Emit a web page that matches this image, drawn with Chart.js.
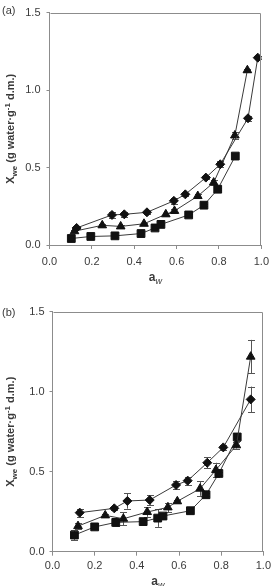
<!DOCTYPE html>
<html>
<head>
<meta charset="utf-8">
<script src="https://cdn.jsdelivr.net/npm/chart.js@4.4.1/dist/chart.umd.min.js"></script>
<style>
  html, body { margin: 0; padding: 0; background: #fff; }
  body { width: 275px; height: 586px; position: relative; overflow: hidden; }
  .wrap { position: absolute; left: 0; width: 275px; height: 293px; }
  #wa { top: 0; }
  #wb { top: 293px; }
</style>
</head>
<body>
<div class="wrap" id="wa"><canvas id="ca" width="275" height="293"></canvas></div>
<div class="wrap" id="wb"><canvas id="cb" width="275" height="293"></canvas></div>
<script>
// ---------- tick labels ----------
const xTicks = [0.0, 0.2, 0.4, 0.6, 0.8, 1.0];
const yTicks = [0.0, 0.5, 1.0, 1.5];

// ---------- panel (a) ----------
const aDiamondAw  = [0.128, 0.295, 0.353, 0.460, 0.587, 0.641, 0.738, 0.806, 0.937, 0.983];
const aDiamondX   = [0.110, 0.194, 0.198, 0.211, 0.285, 0.327, 0.435, 0.521, 0.818, 1.209];
const aDiamondErr = [0.008, 0.022, 0.015, 0.008, 0.020, 0.010, 0.008, 0.020, 0.015, 0.008];

const aTriAw  = [0.118, 0.249, 0.336, 0.446, 0.549, 0.590, 0.700, 0.775, 0.875, 0.934];
const aTriX   = [0.089, 0.127, 0.120, 0.137, 0.198, 0.220, 0.316, 0.403, 0.707, 1.128];
const aTriErr = [0.008, 0.008, 0.008, 0.008, 0.008, 0.015, 0.010, 0.015, 0.022, 0.010];

const aSqAw  = [0.103, 0.195, 0.309, 0.432, 0.498, 0.526, 0.657, 0.729, 0.794, 0.877];
const aSqX   = [0.042, 0.055, 0.059, 0.074, 0.110, 0.133, 0.194, 0.257, 0.360, 0.574];
const aSqErr = [0.005, 0.005, 0.005, 0.005, 0.005, 0.005, 0.005, 0.005, 0.005, 0.005];

// ---------- panel (b) ----------
const bDiamondAw  = [0.129, 0.293, 0.355, 0.461, 0.586, 0.641, 0.734, 0.810, 0.940];
const bDiamondX   = [0.244, 0.271, 0.317, 0.323, 0.417, 0.444, 0.556, 0.652, 0.952];
const bDiamondErr = [0.025, 0.010, 0.048, 0.030, 0.025, 0.025, 0.035, 0.015, 0.080];

const bTriAw  = [0.121, 0.250, 0.336, 0.449, 0.547, 0.592, 0.700, 0.775, 0.872, 0.940];
const bTriX   = [0.160, 0.227, 0.206, 0.248, 0.277, 0.315, 0.394, 0.511, 0.665, 1.219];
const bTriErr = [0.020, 0.010, 0.040, 0.030, 0.030, 0.010, 0.045, 0.045, 0.020, 0.105];

const bSqAw  = [0.104, 0.200, 0.300, 0.430, 0.499, 0.524, 0.654, 0.728, 0.789, 0.876];
const bSqX   = [0.104, 0.155, 0.183, 0.188, 0.210, 0.223, 0.256, 0.356, 0.489, 0.717];
const bSqErr = [0.030, 0.010, 0.020, 0.010, 0.055, 0.010, 0.010, 0.010, 0.010, 0.025];

// ---------- styling ----------
const FONT = "'Liberation Sans', Arial, Helvetica, sans-serif";
const TEXT = '#3a3a3a';
const AXIS = '#8c8c8c';
const LINE = '#3a3a3a';
const MARK = '#111111';

function pts(xs, ys) { return xs.map((x, i) => ({ x: x, y: ys[i] })); }

function series(xs, ys, errs, style, radius) {
  return {
    data: pts(xs, ys),
    errors: errs,
    showLine: true,
    borderColor: LINE,
    borderWidth: 1,
    pointStyle: style,
    pointRadius: radius,
    pointBackgroundColor: MARK,
    pointBorderColor: MARK,
    pointBorderWidth: 1,
    tension: 0
  };
}

const errorBars = {
  id: 'errorBars',
  beforeDatasetsDraw(chart) {
    const ctx = chart.ctx, xs = chart.scales.x, ys = chart.scales.y;
    ctx.save();
    ctx.strokeStyle = '#555';
    ctx.lineWidth = 1;
    chart.data.datasets.forEach(ds => {
      if (!ds.errors) return;
      ds.data.forEach((p, i) => {
        const e = ds.errors[i];
        const px = Math.round(xs.getPixelForValue(p.x)) + 0.5;
        const y1 = ys.getPixelForValue(p.y + e);
        const y2 = ys.getPixelForValue(p.y - e);
        ctx.beginPath();
        ctx.moveTo(px, y1); ctx.lineTo(px, y2);
        ctx.moveTo(px - 3.5, Math.round(y1) + 0.5); ctx.lineTo(px + 3.5, Math.round(y1) + 0.5);
        ctx.moveTo(px - 3.5, Math.round(y2) + 0.5); ctx.lineTo(px + 3.5, Math.round(y2) + 0.5);
        ctx.stroke();
      });
    });
    ctx.restore();
  }
};

function drawRich(ctx, parts, x, y, align) {
  // parts: {t, size, style, dy}
  let total = 0;
  parts.forEach(p => {
    ctx.font = `${p.style} ${p.size}px ${FONT}`;
    p.w = ctx.measureText(p.t).width;
    total += p.w;
  });
  let cx = align === 'center' ? x - total / 2 : x;
  parts.forEach(p => {
    ctx.font = `${p.style} ${p.size}px ${FONT}`;
    ctx.fillText(p.t, cx, y + (p.dy || 0));
    cx += p.w;
  });
}

function decorations(cfg) {
  return {
    id: 'decor',
    afterDraw(chart) {
      const ctx = chart.ctx, a = chart.chartArea;
      ctx.save();
      // frame top/right
      ctx.strokeStyle = AXIS;
      ctx.lineWidth = 1;
      ctx.beginPath();
      ctx.moveTo(Math.round(a.left) + 0.5, Math.round(a.top) + 0.5);
      ctx.lineTo(Math.round(a.right) - 0.5, Math.round(a.top) + 0.5);
      ctx.lineTo(Math.round(a.right) - 0.5, Math.round(a.bottom));
      ctx.stroke();
      ctx.fillStyle = TEXT;
      ctx.textBaseline = 'alphabetic';
      ctx.textAlign = 'left';
      // panel label
      ctx.font = `normal 11px ${FONT}`;
      ctx.fillText(cfg.label, 2, cfg.labelY);
      // x title
      drawRich(ctx, [
        { t: 'a', size: 12, style: 'bold' },
        { t: 'w', size: 9, style: 'italic', dy: 3 }
      ], (a.left + a.right) / 2, cfg.xTitleY, 'center');
      // y title rotated
      ctx.translate(cfg.yTitleX, (a.top + a.bottom) / 2);
      ctx.rotate(-Math.PI / 2);
      drawRich(ctx, [
        { t: 'X', size: 11, style: 'bold' },
        { t: 'we', size: 8, style: 'bold', dy: 3 },
        { t: ' (g water\u00B7g', size: 11, style: 'bold' },
        { t: '-1', size: 8, style: 'bold', dy: -4.5 },
        { t: ' d.m.)', size: 11, style: 'bold' }
      ], 0, 0, 'center');
      ctx.restore();
    }
  };
}

function makeChart(id, datasets, cfg) {
  return new Chart(document.getElementById(id), {
    type: 'scatter',
    data: { datasets: datasets },
    options: {
      responsive: false,
      animation: false,
      events: [],
      layout: { padding: { top: cfg.padTop, right: cfg.padRight, left: 0, bottom: 0 } },
      plugins: { legend: { display: false }, tooltip: { enabled: false } },
      scales: {
        x: {
          type: 'linear', min: 0, max: 1,
          afterBuildTicks(s) { s.ticks = xTicks.map(v => ({ value: v })); },
          ticks: { callback: v => v.toFixed(1), color: TEXT, font: { family: FONT, size: 11 }, padding: cfg.xPad, maxRotation: 0, autoSkip: false },
          grid: { drawOnChartArea: false, drawTicks: true, tickLength: 4, color: AXIS },
          border: { display: true, color: AXIS },
          afterFit(s) { s.height = cfg.xHeight; }
        },
        y: {
          type: 'linear', min: 0, max: 1.5,
          afterBuildTicks(s) { s.ticks = yTicks.map(v => ({ value: v })); },
          ticks: { callback: v => v.toFixed(1), color: TEXT, font: { family: FONT, size: 11 }, padding: cfg.yPad },
          grid: { drawOnChartArea: false, drawTicks: true, tickLength: 3, color: AXIS },
          border: { display: true, color: AXIS },
          afterFit(s) { s.width = cfg.yWidth; }
        }
      }
    },
    plugins: [errorBars, decorations(cfg)]
  });
}

makeChart('ca', [
  series(aDiamondAw, aDiamondX, aDiamondErr, 'rectRot', 4.5),
  series(aTriAw, aTriX, aTriErr, 'triangle', 5),
  series(aSqAw, aSqX, aSqErr, 'rect', 5.5)
], { padTop: 9.5, padRight: 8.5, xHeight: 48, yWidth: 49.5, xPad: 6, yPad: 6,
     label: '(a)', labelY: 14, xTitleY: 281, yTitleX: 14 });

makeChart('cb', [
  series(bDiamondAw, bDiamondX, bDiamondErr, 'rectRot', 4.5),
  series(bTriAw, bTriX, bTriErr, 'triangle', 5),
  series(bSqAw, bSqX, bSqErr, 'rect', 5.5)
], { padTop: 18.7, padRight: 9, xHeight: 34.3, yWidth: 52.5, xPad: 4, yPad: 5,
     label: '(b)', labelY: 23, xTitleY: 291.5, yTitleX: 14 });
</script>
</body>
</html>
